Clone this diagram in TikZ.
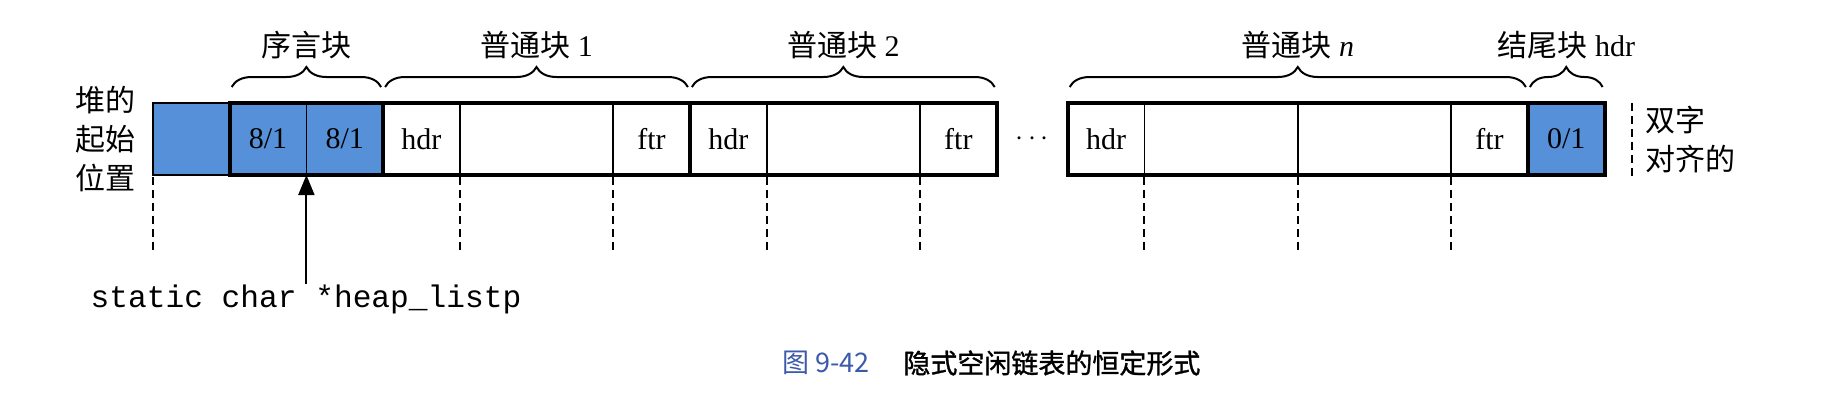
\documentclass[tikz,border=0pt]{standalone}
\usepackage{fontspec}
\setmainfont{Liberation Serif}
\setmonofont{Liberation Mono}
\newfontfamily\cjk{Noto Sans CJK SC}
\newfontfamily\capcjk[FakeBold=1.2]{Noto Sans CJK SC}
\usepackage{xcolor}
\usepackage{tikz}
\usetikzlibrary{arrows.meta, positioning, fit, calc, decorations.pathreplacing}
\definecolor{heapblue}{HTML}{5590D8}
\definecolor{capblue}{HTML}{3C5AAA}

\begin{document}
\begin{tikzpicture}[x=0.5pt, y=-0.5pt,
  word/.style={rectangle, draw=black, line width=0.9pt, minimum width=38.35pt, minimum height=36pt, inner sep=0pt, outer sep=0pt, font=\fontsize{15}{18}\selectfont},
  dword/.style={word, minimum width=76.7pt},
  tagged/.style={word, fill=heapblue},
  blockbox/.style={draw=black, line width=2pt, inner sep=0pt, outer sep=0pt},
  brc/.style={decorate, decoration={brace, amplitude=10pt}, line width=1pt},
  lbl/.style={inner sep=0pt, font=\fontsize{15}{19.5}\selectfont},
  cjklbl/.style={inner sep=0pt, font=\cjk\fontsize{15}{19.5}\selectfont},
  gap/.style={line width=1pt, dash pattern=on 4pt off 2.5pt},
  ptr/.style={-{Triangle[length=10pt, width=8pt]}, line width=1pt}
]
  \useasboundingbox (0,0) rectangle (1838,414);

  % heap words
  \node[tagged, anchor=north west] (pad) at (153,103) {};
  \node[tagged, right=0pt of pad] (pro1) {8/1};
  \node[tagged, right=0pt of pro1] (pro2) {8/1};
  \node[word, right=0pt of pro2] (hdra) {hdr};
  \node[dword, right=0pt of hdra] (pla) {};
  \node[word, right=0pt of pla] (ftra) {ftr};
  \node[word, right=0pt of ftra] (hdrb) {hdr};
  \node[dword, right=0pt of hdrb] (plb) {};
  \node[word, right=0pt of plb] (ftrb) {ftr};

  \node[word, right=35.5pt of ftrb] (hdrn) {hdr};
  \node[dword, right=0pt of hdrn] (pln) {};
  \node[dword, right=0pt of pln] (qln) {};
  \node[word, right=0pt of qln] (ftrn) {ftr};
  \node[tagged, right=0pt of ftrn] (epi) {0/1};

  \node[lbl] (dots) at ($(ftrb.east)!0.5!(hdrn.west)$) {$\cdots$};

  % block outlines
  \node[blockbox, fit=(pro1)(pro2)] (prologue) {};
  \node[blockbox, fit=(hdra)(ftra)] (blka) {};
  \node[blockbox, fit=(hdrb)(ftrb)] (blkb) {};
  \node[blockbox, fit=(hdrn)(ftrn)] (blkn) {};
  \node[blockbox, fit=(epi)] (epilogue) {};

  % braces
  \draw[brc] ([xshift=1pt, yshift=8pt]pro1.north west) -- ([xshift=-1pt, yshift=8pt]pro2.north east)
    node[cjklbl, midway, above=13.5pt] {序言块};
  \draw[brc] ([xshift=1pt, yshift=8pt]hdra.north west) -- ([xshift=-1pt, yshift=8pt]ftra.north east)
    node[lbl, midway, above=13.5pt] {{\cjk 普通块} 1};
  \draw[brc] ([xshift=1pt, yshift=8pt]hdrb.north west) -- ([xshift=-1pt, yshift=8pt]ftrb.north east)
    node[lbl, midway, above=13.5pt] {{\cjk 普通块} 2};
  \draw[brc] ([xshift=1pt, yshift=8pt]hdrn.north west) -- ([xshift=-1pt, yshift=8pt]ftrn.north east)
    node[lbl, midway, above=13.5pt] {{\cjk 普通块} \textit{n}};
  \draw[brc] ([xshift=1pt, yshift=8pt]epi.north west) -- ([xshift=-1pt, yshift=8pt]epi.north east)
    node[lbl, midway, above=13.5pt] {{\cjk 结尾块} hdr};

  % double-word boundaries
  \foreach \c in {pad.south west, hdra.south east, pla.south east, hdrb.south east,
                  plb.south east, hdrn.south east, pln.south east, qln.south east}
    \draw[gap] ([yshift=-1pt]\c) -- ++(0,74);

  \node[cjklbl, align=center, left=8.5pt of pad] (start) {堆的\\起始\\位置};

  \coordinate (algn) at ([xshift=13.5pt]epi.east);
  \draw[gap] ([yshift=18pt]algn) -- ([yshift=-19.5pt]algn);
  \node[cjklbl, align=left, right=6.5pt of algn] (dwalign) {双字\\对齐的};

  % heap_listp
  \node[inner sep=0pt, font=\ttfamily\fontsize{15.6}{18}\selectfont, anchor=base] (heap) at (306,307) {static char *heap\_listp};
  \draw[ptr] (heap.north -| pro1.south east) -- (pro1.south east);

  % caption
  \node[inner sep=0pt, font=\capcjk\fontsize{13.5}{16}\selectfont, anchor=west] (cap) at (903,363) {隐式空闲链表的恒定形式};
  \node[inner sep=0pt, font=\cjk\fontsize{13.5}{16}\selectfont, text=capblue, left=16.5pt of cap] (fig) {图 9-42};
\end{tikzpicture}
\end{document}
